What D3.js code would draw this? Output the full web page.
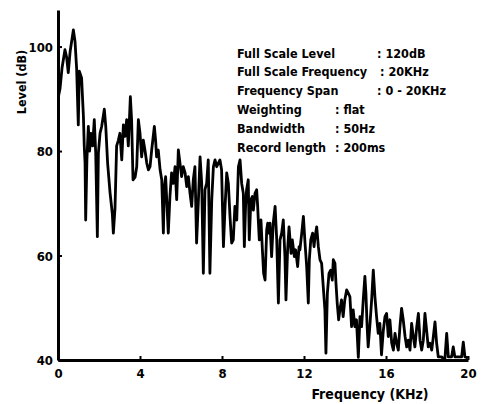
<!DOCTYPE html>
<html>
<head>
<meta charset="utf-8">
<script src="https://cdn.jsdelivr.net/npm/d3@7"></script>
<style>
  body { margin: 0; background: #fff; }
  svg text { font-family: "Liberation Sans Narrow", "DejaVu Sans Condensed", sans-serif; font-weight: bold; fill: #000; }
</style>
</head>
<body>
<svg id="chart"></svg>
<script>
// spectrum: frequency (kHz) and level (dB)
const freq = [
  0.00, 0.10, 0.20, 0.34, 0.42, 0.50, 0.59, 0.75, 0.83, 0.91, 0.96, 0.99, 1.04, 1.15, 1.24, 1.28, 1.32, 1.35, 1.41, 1.48,
  1.54, 1.61, 1.69, 1.77, 1.84, 1.92, 1.97, 2.05, 2.13, 2.26, 2.33, 2.42, 2.54, 2.65, 2.70, 2.78, 2.86, 2.94, 3.02, 3.11,
  3.19, 3.27, 3.35, 3.43, 3.53, 3.59, 3.66, 3.76, 3.84, 3.92, 4.00, 4.08, 4.16, 4.24, 4.33, 4.41, 4.49, 4.57, 4.70, 4.76,
  4.81, 4.89, 4.98, 5.06, 5.14, 5.19, 5.25, 5.38, 5.46, 5.54, 5.63, 5.71, 5.79, 5.87, 5.95, 6.03, 6.11, 6.20, 6.28, 6.36,
  6.44, 6.52, 6.60, 6.68, 6.76, 6.85, 6.93, 7.01, 7.09, 7.17, 7.25, 7.33, 7.41, 7.50, 7.58, 7.66, 7.74, 7.90, 7.98, 8.07,
  8.15, 8.23, 8.31, 8.39, 8.47, 8.55, 8.63, 8.72, 8.80, 8.88, 8.96, 9.04, 9.09, 9.15, 9.20, 9.28, 9.33, 9.41, 9.48, 9.53,
  9.61, 9.69, 9.74, 9.77, 9.82, 9.90, 9.97, 10.03, 10.10, 10.18, 10.23, 10.29, 10.34, 10.42, 10.50, 10.59, 10.63, 10.67, 10.75, 10.83,
  10.91, 10.99, 11.07, 11.12, 11.20, 11.27, 11.37, 11.43, 11.53, 11.59, 11.69, 11.76, 11.80, 11.89, 11.97, 12.05, 12.13, 12.21, 12.26, 12.33,
  12.42, 12.49, 12.54, 12.62, 12.70, 12.78, 12.86, 12.94, 13.02, 13.07, 13.14, 13.22, 13.30, 13.38, 13.43, 13.51, 13.56, 13.62, 13.69, 13.75,
  13.83, 13.91, 13.99, 14.08, 14.16, 14.24, 14.32, 14.40, 14.48, 14.56, 14.65, 14.73, 14.81, 14.89, 14.97, 15.02, 15.08, 15.13, 15.21, 15.30,
  15.38, 15.46, 15.54, 15.62, 15.70, 15.78, 15.87, 15.95, 16.03, 16.11, 16.19, 16.28, 16.36, 16.44, 16.52, 16.60, 16.68, 16.76, 16.84, 16.93,
  17.01, 17.09, 17.17, 17.25, 17.33, 17.41, 17.50, 17.58, 17.66, 17.74, 17.82, 17.90, 17.98, 18.06, 18.15, 18.23, 18.31, 18.39, 18.47, 18.55,
  18.71, 18.87, 18.96, 19.04, 19.20, 19.28, 19.36, 19.69, 19.77, 19.85, 20.00
];
const level = [
  90.0, 92.0, 96.0, 99.4, 98.0, 95.0, 99.0, 103.2, 101.0, 95.7, 89.0, 85.0, 95.3, 94.0, 86.6, 81.0, 77.7, 66.8, 78.3, 84.7,
  80.0, 83.4, 81.0, 86.0, 79.6, 63.6, 79.6, 83.4, 84.7, 88.0, 84.7, 77.7, 72.0, 68.0, 64.3, 69.0, 81.0, 82.0, 83.4, 78.3,
  85.0, 82.8, 86.0, 81.0, 90.4, 86.0, 74.5, 75.0, 77.0, 86.0, 83.4, 78.9, 82.1, 80.2, 77.7, 76.4, 77.0, 80.2, 84.7, 82.1,
  78.9, 80.2, 76.4, 74.5, 64.3, 73.2, 75.1, 64.3, 71.3, 75.8, 73.8, 77.0, 70.7, 80.2, 77.7, 75.1, 77.0, 75.8, 73.2, 75.1,
  71.9, 69.4, 74.5, 77.0, 62.4, 70.7, 78.9, 73.8, 56.6, 72.6, 73.8, 78.3, 56.6, 70.7, 77.0, 78.3, 77.0, 78.3, 76.4, 61.7,
  69.4, 75.8, 73.8, 67.5, 62.4, 63.0, 69.4, 66.8, 77.0, 78.3, 73.8, 71.9, 61.7, 69.4, 72.6, 74.5, 63.0, 70.7, 71.3, 68.7,
  71.9, 72.6, 69.4, 66.8, 63.0, 66.8, 61.1, 56.6, 55.3, 64.9, 66.2, 64.3, 66.2, 59.8, 66.2, 69.4, 66.2, 63.0, 50.9, 63.0,
  64.3, 66.8, 59.8, 51.5, 61.1, 65.5, 60.4, 63.0, 59.8, 61.1, 57.9, 61.7, 61.1, 64.3, 67.5, 62.4, 57.9, 50.9, 59.2, 63.0,
  64.3, 61.7, 63.6, 65.5, 61.7, 59.2, 58.5, 54.0, 49.6, 41.3, 52.8, 56.6, 57.2, 55.3, 59.2, 58.5, 54.7, 50.9, 47.7, 49.6,
  51.5, 48.3, 51.5, 53.4, 52.8, 52.1, 46.4, 49.6, 46.4, 47.7, 40.5, 48.3, 46.4, 51.5, 56.0, 52.8, 46.4, 42.5, 46.4, 51.5,
  57.2, 52.1, 48.3, 45.1, 47.0, 41.0, 45.7, 48.3, 48.9, 44.5, 47.7, 43.2, 41.9, 45.1, 43.2, 41.9, 46.4, 49.9, 47.7, 44.5,
  42.5, 43.8, 41.9, 47.0, 44.5, 42.5, 46.4, 48.9, 43.8, 41.9, 43.8, 48.9, 45.7, 42.5, 43.2, 41.9, 44.5, 47.3, 43.2, 40.6,
  40.6, 40.0, 45.1, 40.6, 40.6, 42.5, 40.6, 40.6, 43.4, 40.6, 40.4
];

const xTicks = [0, 4, 8, 12, 16, 20];
const yTicks = [40, 60, 80, 100];

const infoLabels = ["Full Scale Level", "Full Scale Frequency", "Frequency  Span", "Weighting", "Bandwidth", "Record length"];
const infoValues = [": 120dB", ": 20KHz", ": 0 - 20KHz", ": flat", ": 50Hz", ": 200ms"];

const width = 483, height = 404;
const svg = d3.select("#chart").attr("width", width).attr("height", height);

// scales
const x = d3.scaleLinear().domain([0, 20]).range([58, 468]);
const y = d3.scaleLinear().domain([40, 107]).range([360, 10]);

// clip so the dips stop at the axis
svg.append("clipPath").attr("id", "plotclip")
  .append("rect").attr("x", 58).attr("y", 0).attr("width", 420).attr("height", 360);

const pts = freq.map((f, i) => [f, level[i]]);
const line = d3.line().x(d => x(d[0])).y(d => y(d[1]));

svg.append("path")
  .datum(pts)
  .attr("clip-path", "url(#plotclip)")
  .attr("d", line)
  .attr("fill", "none")
  .attr("stroke", "#000")
  .attr("stroke-width", 2.8)
  .attr("stroke-linejoin", "round");

// axes
const xaxis = d3.axisBottom(x).tickValues(xTicks).tickSizeInner(-4).tickSizeOuter(0).tickPadding(9);
const yaxis = d3.axisLeft(y).tickValues(yTicks).tickSizeInner(-4).tickSizeOuter(0).tickPadding(5);

const gx = svg.append("g").attr("transform", "translate(0,360)").call(xaxis);
const gy = svg.append("g").attr("transform", "translate(58,0)").call(yaxis);

[gx, gy].forEach(g => {
  g.select(".domain").attr("stroke", "#000").attr("stroke-width", 3);
  g.selectAll(".tick line").attr("stroke", "#000").attr("stroke-width", 2);
  g.selectAll(".tick text").attr("font-size", 13)
    .attr("font-family", null).attr("fill", "#000");
});
gy.selectAll(".tick text").attr("dy", "0.35em");

// axis titles
svg.append("text")
  .attr("transform", "translate(26,82) rotate(-90)")
  .attr("text-anchor", "middle")
  .attr("font-size", 12.5)
  .text("Level (dB)");

svg.append("text")
  .attr("x", 370).attr("y", 399)
  .attr("text-anchor", "middle")
  .attr("font-size", 14)
  .text("Frequency (KHz)");

// measurement settings block
const rowY = d3.scalePoint().domain(d3.range(infoLabels.length)).range([53, 147]);
const info = svg.append("g").attr("font-size", 12.5);
infoLabels.forEach((t, i) => {
  const cx = i === 1 ? 380 : (i < 3 ? 377 : 335);
  info.append("text").attr("x", 237).attr("y", rowY(i) + 4.5).text(t);
  info.append("text").attr("x", cx).attr("y", rowY(i) + 4.5).text(infoValues[i]);
});
</script>
</body>
</html>
